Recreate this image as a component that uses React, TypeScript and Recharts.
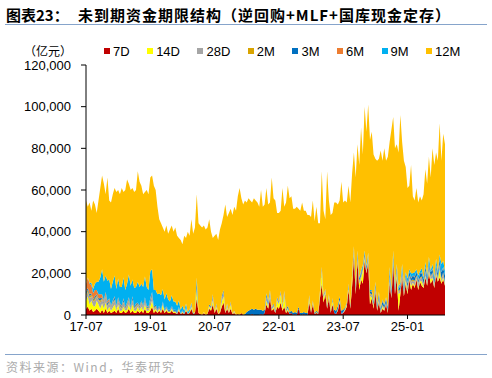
import React from "react";
import { AreaChart, Area, XAxis, YAxis } from "recharts";

// 两个读数/月，自 2017-07 起；单位：千亿元（×1000 = 亿元）
const d7D = [
  3, 4, 2, 3, 1.5, 2, 3, 2, 1, 2.5,
  1, 3, 1, 2, 1, 1.5, 2, 1, 3, 1,
  1, 2, 1, 1.5, 3, 1, 2, 1, 1, 2,
  1, 2, 1, 3, 1, 1, 2, 4, 1, 2,
  1, 2, 1, 3, 1, 2, 1, 1, 2, 1,
  1, 0.5, 2, 0.5, 1, 0.5, 2, 0.5, 1, 3,
  0.5, 1, 8, 1, 0.5, 0, 1, 0, 0.5, 3,
  2, 5, 1, 3, 0.5, 1, 4, 6, 1, 3,
  1, 3, 0.5, 1, 0, 0.5, 0, 1, 0, 0,
  0, 0, 0, 0.5, 0, 0, 0, 0, 0.5, 0,
  1, 5, 3, 8, 2, 3, 1, 4, 3, 6,
  2, 4, 1, 2, 0.5, 1, 0, 0.5, 0, 3,
  0, 0, 0.5, 0, 0, 6, 1, 5, 0.5, 1,
  0.5, 8, 15, 6, 10, 3, 8, 1, 5, 1,
  0.5, 2, 6, 0.5, 1, 2, 4, 12, 3, 14,
  28, 10, 26, 12, 17, 15, 26, 20, 25, 5,
  8, 3, 11, 2, 6, 1, 3, 2, 5, 1,
  15, 8, 24, 10, 18, 2, 10, 18, 9, 15,
  10, 17, 12, 15, 13, 17, 12, 16, 14, 13,
  18, 14, 20, 15, 17, 13, 19, 16, 18, 15,
  17, 14,
];
const d14D = [
  4, 5, 3, 4, 3, 2, 4, 3, 2, 3,
  2, 3, 1, 2, 1, 2, 3, 1, 2, 1,
  1, 2, 1, 1, 2, 1, 3, 1, 1, 2,
  1, 2, 1, 2, 1, 1, 2, 3, 1, 1,
  0.5, 1, 0.5, 2, 0.5, 1, 0.5, 0.5, 1, 0.5,
  0.5, 0, 1, 0, 0.5, 0, 1, 0, 0.5, 1,
  0, 0.5, 4, 0.5, 0, 0, 0.5, 0, 0, 1,
  1, 2, 0, 1, 0, 0.5, 2, 3, 0, 1,
  0, 2, 0, 0.5, 0, 0, 0, 0, 0, 0,
  0, 0, 0, 0, 0, 0, 0, 0, 0, 0,
  0, 2, 1, 1, 0.5, 1, 0, 3, 2, 4,
  1, 5, 0.5, 1, 0, 0, 0, 0, 0, 0,
  0, 0, 0, 0, 0, 2, 0, 1, 0, 0.5,
  0, 2, 6, 2, 1, 0.5, 1, 0, 2, 0,
  0, 0.5, 1, 0, 0, 0.5, 1, 1, 0.5, 4,
  1, 1, 1, 3, 0.5, 6, 1, 0.5, 1, 4,
  0.5, 1, 1, 0.5, 1, 0, 1, 0.5, 0, 0.5,
  1, 0.5, 1, 0.5, 2, 8, 1, 1, 0.5, 2,
  1, 0.5, 2, 0.5, 1, 0.5, 1, 0.5, 2, 0.5,
  1, 0.5, 1, 2, 1, 0.5, 1, 0.5, 4, 1,
  1, 0.5,
];
const d28D = [
  2, 2, 3, 2, 2, 3, 2, 2, 3, 2,
  2, 3, 2, 2, 1, 2, 2, 1, 2, 2,
  1, 2, 1, 2, 2, 1, 2, 1, 2, 1,
  1, 2, 1, 2, 1, 1, 2, 2, 1, 1,
  1, 1, 0.5, 1, 0.5, 1, 0.5, 0.5, 1, 0.5,
  0.5, 0.5, 0.5, 0, 0.5, 0, 0.5, 0, 0, 1,
  0, 0, 1, 0, 0, 0, 0, 0, 0, 0.5,
  0.5, 2, 0, 1, 0, 0.5, 2, 2, 0.5, 1,
  0.5, 1, 0, 0.5, 0, 0, 0, 0, 0, 0,
  0, 0, 0, 0, 0, 0, 0, 0, 0, 0,
  0, 2, 1, 2, 0.5, 1, 0.5, 1, 1, 1,
  1, 2, 0.5, 0.5, 0, 0, 0, 0, 0, 0,
  0, 0, 0, 0, 0, 1, 0, 0.5, 0, 0,
  0, 1, 1, 1, 1, 0.5, 0.5, 0, 0.5, 0,
  0, 0.5, 0.5, 0, 0.5, 0.5, 0.5, 1, 0.5, 1,
  1, 1, 1, 1, 1, 1, 1, 1, 1, 1,
  1, 0.5, 1, 0.5, 1, 0.5, 0.5, 0.5, 0.5, 0.5,
  2, 1, 1, 1, 1, 1, 1, 2, 1, 1,
  2, 1, 2, 1, 2, 1, 2, 1, 2, 1,
  2, 1, 2, 1, 2, 1, 2, 1, 2, 1,
  2, 1,
];
const d2M = [
  1, 1, 1, 1, 0.5, 1, 0.5, 0.5, 1, 0.5,
  0.5, 0.5, 0.5, 0.5, 0.5, 0.5, 0.5, 0.5, 0.5, 0.5,
  0.5, 0.5, 0.5, 0.5, 0.5, 0.5, 0.5, 0.5, 0.5, 0.5,
  0.5, 0.5, 0.5, 0.5, 0.5, 0.5, 0.5, 0.5, 0.5, 0.5,
  0, 0, 0, 0, 0, 0, 0, 0, 0, 0,
  0, 0, 0, 0, 0, 0, 0, 0, 0, 0,
  0, 0, 0, 0, 0, 0, 0, 0, 0, 0,
  0, 0, 0, 0, 0, 0, 0, 0, 0, 0,
  0, 0, 0, 0, 0, 0, 0, 0, 0, 0,
  0, 0, 0, 0, 0, 0, 0, 0, 0, 0,
  0, 0, 0, 0, 0, 0, 0, 0, 0, 0,
  0, 0, 0, 0, 0, 0, 0, 0, 0, 0,
  0, 0, 0, 0, 0, 0, 0, 0, 0, 0,
  0, 0, 0, 0, 0, 0, 0, 0, 0, 0,
  0, 0, 0, 0, 0, 0, 0, 0, 0, 0,
  0.5, 0.5, 0.5, 0.5, 0.5, 0.5, 0.5, 0.5, 0.5, 0.5,
  0.5, 0.5, 0.5, 0.5, 0.5, 0.5, 0.5, 0.5, 0.5, 0.5,
  0.5, 0.5, 0.5, 0.5, 0.5, 0.5, 0.5, 0.5, 0.5, 0.5,
  0.5, 0.5, 0.5, 0.5, 0.5, 0.5, 0.5, 0.5, 0.5, 0.5,
  0.5, 0.5, 0.5, 0.5, 0.5, 0.5, 0.5, 0.5, 0.5, 0.5,
  0.5, 0.5,
];
const d3M = [
  1, 1, 1, 0.5, 0.5, 1, 0.5, 0.5, 1, 0.5,
  0.5, 0.5, 1, 0.5, 0.5, 0.5, 1, 0.5, 0.5, 0.5,
  0.5, 1, 0.5, 0.5, 0.5, 0.5, 1, 0.5, 0.5, 0.5,
  0.5, 0.5, 0.5, 1, 0.5, 0.5, 1, 1, 0.5, 0.5,
  0.5, 0.5, 0.5, 0.5, 0.5, 0.5, 0.5, 0.5, 0.5, 0.5,
  0.5, 0.5, 0.5, 0, 0.5, 0, 0.5, 0, 0, 0.5,
  0, 0, 3, 0, 0, 0, 0, 0, 0, 0.5,
  0.5, 1, 0, 0.5, 0, 0, 1, 1, 0, 0.5,
  0, 0.5, 0, 0, 0, 0, 0, 0, 0, 0.5,
  1.5, 2, 2.5, 2.5, 2.5, 3, 2.5, 2.5, 2, 2,
  1.5, 1, 1, 0.5, 0.5, 0.5, 0.5, 0.5, 0.5, 0.5,
  0.5, 0.5, 0.5, 1, 1, 1, 1, 1, 1, 1,
  1, 1, 1, 1, 1, 0.5, 0.5, 0.5, 0.5, 0.5,
  0.5, 0.5, 1, 0.5, 0.5, 0.5, 0.5, 0.5, 0.5, 1.5,
  1.5, 1.5, 1.5, 1.5, 1, 0.5, 0.5, 1, 0.5, 1,
  1, 1, 1, 1, 1, 1, 1, 1, 1, 1,
  1, 1, 1.5, 1, 1.5, 1, 1.5, 1, 1.5, 1,
  2, 1, 2, 1, 1.5, 1, 1.5, 1, 2, 1,
  1.5, 2, 1, 2, 1.5, 2, 1, 2, 1.5, 2,
  1.5, 2, 1, 2, 1.5, 2, 1, 2, 2, 3,
  2, 3,
];
const d6M = [
  4, 5, 5, 4, 3, 3, 2, 2, 2, 1.5,
  1, 1, 1, 1, 0.5, 0.5, 0.5, 0.5, 0.5, 0.5,
  0.5, 0.5, 0, 0.5, 0.5, 0, 0.5, 0, 0.5, 0,
  0.5, 0, 0.5, 0, 0.5, 0, 0.5, 0.5, 0, 0,
  0, 0, 0, 0, 0, 0, 0, 0, 0, 0,
  0, 0, 0, 0, 0, 0, 0, 0, 0, 0,
  0, 0, 0, 0, 0, 0, 0, 0, 0, 0,
  0, 0, 0, 0, 0, 0, 0, 0, 0, 0,
  0, 0, 0, 0, 0, 0, 0, 0, 0, 0,
  0, 0, 0, 0, 0, 0, 0, 0, 0, 0,
  0, 0, 0, 0, 0, 0, 0, 0, 0, 0,
  0, 0, 0, 0, 0, 0, 0, 0, 0, 0,
  0, 0, 0, 0, 0, 0, 0, 0, 0, 0,
  0, 0, 0, 0, 0, 0, 0, 0, 0, 0,
  0, 0, 0, 0, 0, 0, 0, 0, 0, 0,
  0.5, 0, 0.5, 0, 0.5, 0, 0.5, 0, 0.5, 0,
  0.5, 0, 0.5, 0, 0.5, 0, 0.5, 0, 0.5, 0,
  0.5, 0, 0.5, 0, 0.5, 0, 0.5, 0, 0.5, 0,
  0.5, 0, 0.5, 0, 0.5, 0, 0.5, 0, 0.5, 0,
  0.5, 0, 0.5, 0, 0.5, 0, 0.5, 0, 0.5, 0,
  0.5, 0,
];
const d9M = [
  0, 0, 0.5, 1, 2, 3, 4, 6, 8, 12,
  9, 8, 10, 9, 8, 9, 10, 8, 9, 8,
  9, 10, 8, 9, 11, 10, 8, 9, 8, 10,
  9, 8, 9, 10, 9, 8, 13, 11, 8, 7,
  7, 6, 7, 6, 5, 6, 5, 4, 5, 4,
  4, 3, 3, 2, 2, 1.5, 1.5, 1, 1, 0.5,
  0.5, 0, 2, 0, 0, 0, 0, 0, 0, 0,
  0, 0, 0, 0, 0, 0, 0, 0, 0, 0,
  0, 0, 0, 0, 0, 0, 0, 0, 0, 0,
  0, 0, 0, 0, 0, 0, 0, 0, 0, 0,
  0, 0.5, 0.5, 0.5, 0, 0, 0, 0, 0, 0,
  0, 0, 0, 0, 0, 0, 0, 0, 0, 0,
  0, 0, 0, 0, 0, 0, 0, 0, 0, 0,
  0, 0, 0, 0, 0, 0, 0, 0, 0, 0,
  0, 0, 0, 0, 0, 0, 0, 0, 0, 0,
  1, 0.5, 1, 0.5, 1, 0.5, 1, 0.5, 1, 0.5,
  0.5, 0.5, 0.5, 0.5, 0.5, 0.5, 0.5, 0.5, 0.5, 0.5,
  2, 1, 2, 1, 1, 1, 1, 2, 1, 1,
  2, 1, 2, 1, 2, 1, 2, 1, 2, 1,
  2, 1, 3, 1, 2, 1, 3, 1, 2, 4,
  3, 2,
];
const d12M = [
  40, 34, 38.5, 34.5, 42.5, 38, 33, 39, 43, 45,
  47, 39, 49.5, 38, 41.5, 42, 42, 46.5, 42.5, 44.5,
  47.5, 41, 48, 50, 43.5, 46, 44, 46, 46.5, 53,
  50.5, 47, 44.5, 40.5, 46.5, 46, 45, 45, 50, 48,
  42, 35.5, 34.5, 29.5, 32.5, 32.5, 31.5, 34.5, 33.5, 33.5,
  35.5, 33.5, 30, 33.5, 29.5, 36, 31.5, 38.5, 35.5, 40,
  38, 40.5, 40, 42.5, 42.5, 42, 41.5, 41, 41.5, 41,
  36, 27, 37, 33.5, 35.5, 39, 35, 36, 51.5, 41.5,
  47.5, 44.5, 47.5, 50, 50, 56.5, 61, 55, 53, 54.5,
  52.5, 54, 52.5, 51, 53.5, 52, 51.5, 49.5, 57.5, 50,
  50.5, 50.5, 46.5, 42, 62.5, 50.5, 53, 40.5, 42.5, 38.5,
  56.5, 40.5, 51.5, 57.5, 54.5, 55, 50, 49.5, 51, 47,
  49, 53, 48.5, 49, 47, 38.5, 45.5, 48, 44, 50,
  43, 32.5, 46, 40.5, 33.5, 64.5, 45, 46.5, 41, 51.5,
  52, 48.5, 46, 62, 51.5, 51.5, 48, 47, 49.5, 48,
  45, 52, 51, 54, 68.5, 53, 69, 64.5, 71, 72,
  76, 70.5, 59, 69, 64, 75.5, 66.5, 75, 65.5, 72,
  60, 77, 64, 66, 57.5, 64.5, 80.5, 58.5, 59.5, 50.5,
  43.5, 40, 52, 37, 34.5, 39, 35, 36, 32.5, 40,
  44.5, 44, 48, 44.5, 55.5, 54, 51, 53, 63, 49.5,
  61, 61,
];

const seriesNames = ["7D", "14D", "28D", "2M", "3M", "6M", "9M", "12M"];
const seriesValues = [d7D, d14D, d28D, d2M, d3M, d6M, d9M, d12M];
const seriesColors = ["#C00000", "#FFFF00", "#A5A5A5", "#D9A400", "#0070C0", "#ED7D31", "#00B0F0", "#FFC000"];

const xTickMonths = [0, 18, 36, 54, 72, 90];
const xTickLabels = ["17-07", "19-01", "20-07", "22-01", "23-07", "25-01"];
const yTicks = [0, 20000, 40000, 60000, 80000, 100000, 120000];

const data = d12M.map((_, i) => {
  const row: Record<string, number> = { t: i / 2 };
  seriesNames.forEach((name, j) => {
    row[name] = seriesValues[j][i] * 1000;
  });
  return row;
});

const latin = '"Liberation Sans", Arial, sans-serif';
const cjk = '"Noto Sans CJK SC", "Liberation Sans", sans-serif';

export default function App() {
  return (
    <div style={{ position: "absolute", left: 0, top: 0, width: 492, height: 378, background: "#fff", fontFamily: latin }}>
      <div style={{ position: "absolute", left: 6, top: 5, fontSize: 15, fontWeight: 700, lineHeight: "20px", fontFamily: cjk, whiteSpace: "nowrap" }}>
        图表23：
      </div>
      <div style={{ position: "absolute", left: 78, top: 5, fontSize: 15, fontWeight: 700, lineHeight: "20px", fontFamily: cjk, whiteSpace: "nowrap", letterSpacing: 1 }}>
        未到期资金期限结构（逆回购+MLF+国库现金定存）
      </div>
      <div style={{ position: "absolute", left: 5, top: 24, width: 482, height: 1, background: "#86A4CB" }} />

      <AreaChart width={492} height={378} data={data} margin={{ top: 65, right: 47, bottom: 33, left: 0 }}>
        <XAxis
          dataKey="t"
          type="number"
          domain={[0, 100.5]}
          ticks={xTickMonths}
          interval={0}
          tickFormatter={(v) => xTickLabels[xTickMonths.indexOf(v)]}
          axisLine={{ stroke: "#000" }}
          tickLine={{ stroke: "#000" }}
          tickSize={4}
          tickMargin={3}
          height={30}
          tick={{ fill: "#000", fontSize: 13, fontFamily: latin }}
        />
        <YAxis
          domain={[0, 120000]}
          ticks={yTicks}
          interval={0}
          width={86}
          tickFormatter={(v) => v.toLocaleString("en-US")}
          axisLine={{ stroke: "#000" }}
          tickLine={{ stroke: "#000" }}
          tickSize={5}
          tickMargin={10}
          tick={{ fill: "#000", fontSize: 13, fontFamily: latin }}
        />
        {seriesNames.map((name, j) => (
          <Area
            key={name}
            dataKey={name}
            stackId="a"
            type="linear"
            stroke="none"
            fill={seriesColors[j]}
            fillOpacity={1}
            dot={false}
            activeDot={false}
            isAnimationActive={false}
          />
        ))}
      </AreaChart>

      <div style={{ position: "absolute", left: 24, top: 43, fontSize: 12, lineHeight: "16px", fontFamily: cjk }}>（亿元）</div>
      <div style={{ position: "absolute", left: 104, top: 44, height: 14, display: "flex", alignItems: "center", gap: 17.5, fontSize: 13 }}>
        {seriesNames.map((name, j) => (
          <div key={name} style={{ display: "flex", alignItems: "center" }}>
            <span style={{ width: 6, height: 6, background: seriesColors[j], marginRight: 3 }} />
            <span>{name}</span>
          </div>
        ))}
      </div>

      <div style={{ position: "absolute", left: 5, top: 354, width: 482, height: 1, background: "#86A4CB" }} />
      <div style={{ position: "absolute", left: 6, top: 359, fontSize: 12, lineHeight: "16px", color: "#ABABAB", fontFamily: cjk, whiteSpace: "nowrap", letterSpacing: 1.5 }}>
        资料来源：Wind，华泰研究
      </div>
    </div>
  );
}
